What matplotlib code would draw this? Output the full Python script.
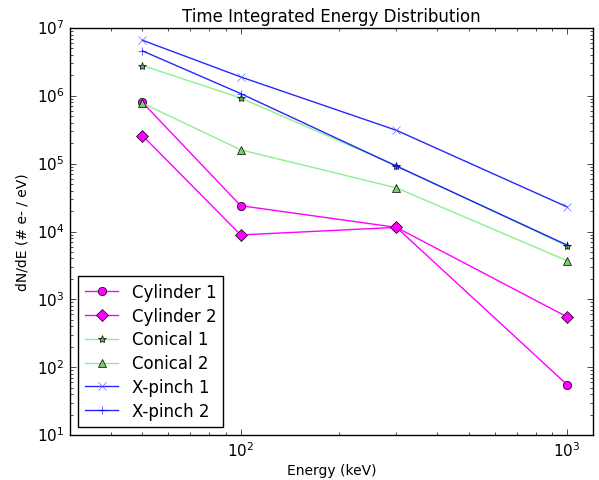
import matplotlib
matplotlib.use('Agg')
import matplotlib.pyplot as plt

plt.style.use('classic')

energy = [50, 100, 300, 1000]

cyl1 = [8.0e5, 2.4e4, 1.15e4, 55]
cyl2 = [2.6e5, 8.9e3, 1.15e4, 550]
con1 = [2.8e6, 9.3e5, 9.3e4, 6.1e3]
con2 = [7.8e5, 1.6e5, 4.4e4, 3.7e3]
xp1 = [6.6e6, 1.9e6, 3.1e5, 2.3e4]
xp2 = [4.6e6, 1.08e6, 9.2e4, 6.3e3]

labels = ['Cylinder 1', 'Cylinder 2', 'Conical 1', 'Conical 2', 'X-pinch 1', 'X-pinch 2']

fig = plt.figure(figsize=(5.99, 4.81), dpi=100)
ax = fig.add_axes([70/599, 45/481, 523/599, 407/481])

ax.loglog(energy, cyl1, color='magenta', marker='o', markersize=6, label=labels[0])
ax.loglog(energy, cyl2, color='magenta', marker='D', markersize=6, label=labels[1])
ax.loglog(energy, con1, color='lightgreen', marker='*', markersize=6,
          markerfacecolor='#66aa66', label=labels[2])
ax.loglog(energy, con2, color='lightgreen', marker='^', markersize=6,
          markerfacecolor='#77cc77', label=labels[3])
ax.loglog(energy, xp1, color='blue', marker='x', markersize=6, alpha=0.85,
          markeredgecolor='#5555ff', label=labels[4])
ax.loglog(energy, xp2, color='blue', marker='+', markersize=6, alpha=0.85,
          label=labels[5])

ax.set_xlim(30, 1200)
ax.set_ylim(1e1, 1e7)
ax.set_title('Time Integrated Energy Distribution', fontsize=12)
ax.set_xlabel('Energy (keV)', fontsize=10, labelpad=3)
ax.set_ylabel('dN/dE (# e- / eV)', fontsize=10)
ax.tick_params(labelsize=11, pad=4)
ax.legend(loc='lower left', fontsize=12, numpoints=1, labelspacing=0.35)

fig.savefig('out.png', dpi=100)
